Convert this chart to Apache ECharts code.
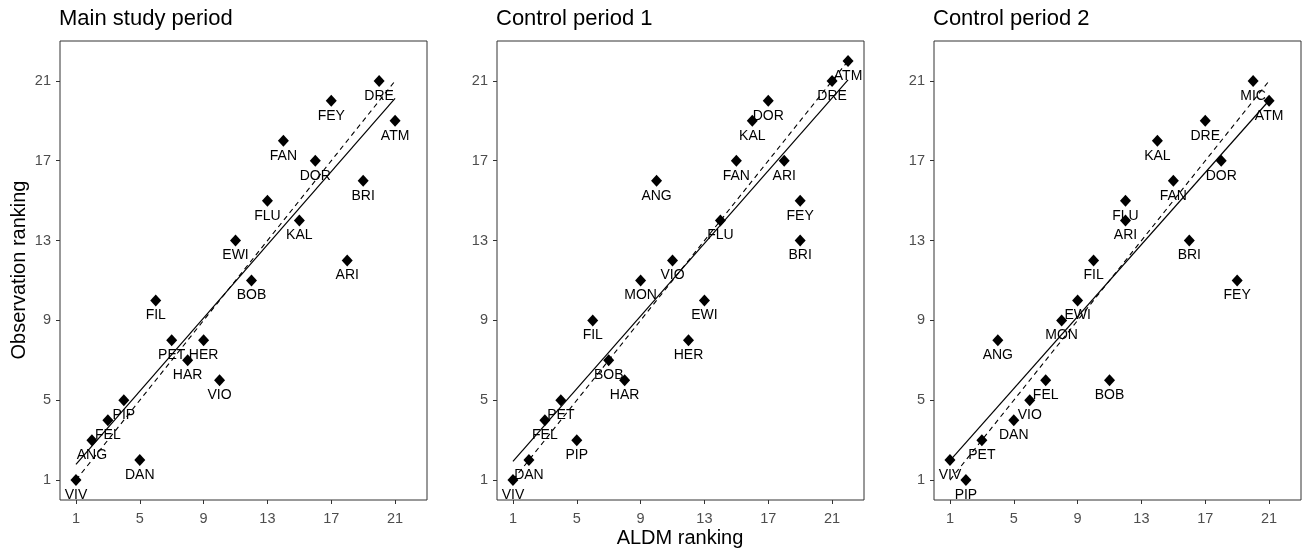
<!DOCTYPE html>
<html>
<head>
<meta charset="utf-8">
<script src="https://cdn.jsdelivr.net/npm/echarts@6/dist/echarts.min.js"></script>
<style>
html,body{margin:0;padding:0;background:#fff;}
#chart{width:1308px;height:551px;}
</style>
</head>
<body>
<div id="chart"></div>
<script>
// ---- Data ----
const panelTitles = ["Main study period", "Control period 1", "Control period 2"];
const tickValues = [1, 5, 9, 13, 17, 21];

const mainNames = ["DRE","FEY","ATM","FAN","DOR","BRI","FLU","KAL","EWI","ARI","BOB","FIL","PET","HER","HAR","VIO","PIP","FEL","ANG","DAN","VIV"];
const mainAldm  = [20, 17, 21, 14, 16, 19, 13, 15, 11, 18, 12, 6, 7, 9, 8, 10, 4, 3, 2, 5, 1];
const mainObs   = [21, 20, 19, 18, 17, 16, 15, 14, 13, 12, 11, 10, 8, 8, 7, 6, 5, 4, 3, 2, 1];

const ctrl1Names = ["ATM","DRE","DOR","KAL","FAN","ARI","ANG","FEY","FLU","BRI","VIO","MON","EWI","FIL","HER","BOB","HAR","PET","FEL","PIP","DAN","VIV"];
const ctrl1Aldm  = [22, 21, 17, 16, 15, 18, 10, 19, 14, 19, 11, 9, 13, 6, 12, 7, 8, 4, 3, 5, 2, 1];
const ctrl1Obs   = [22, 21, 20, 19, 17, 17, 16, 15, 14, 13, 12, 11, 10, 9, 8, 7, 6, 5, 4, 3, 2, 1];

const ctrl2Names = ["MIC","ATM","DRE","KAL","DOR","FAN","FLU","ARI","BRI","FIL","FEY","EWI","MON","ANG","FEL","BOB","VIO","DAN","PET","VIV","PIP"];
const ctrl2Aldm  = [20, 21, 17, 14, 18, 15, 12, 12, 16, 10, 19, 9, 8, 4, 7, 11, 6, 5, 3, 1, 2];
const ctrl2Obs   = [21, 20, 19, 18, 17, 16, 15, 14, 13, 12, 11, 10, 9, 8, 6, 6, 5, 4, 3, 2, 1];

const xAxisTitle = "ALDM ranking";
const yAxisTitle = "Observation ranking";

// ---- Build ----
const panels = [
  {names: mainNames, x: mainAldm, y: mainObs},
  {names: ctrl1Names, x: ctrl1Aldm, y: ctrl1Obs},
  {names: ctrl2Names, x: ctrl2Aldm, y: ctrl2Obs}
];
const gridLefts = [60, 497, 934];
const FONT = "'Liberation Sans', Arial, sans-serif";

function linFit(xs, ys) {
  const n = xs.length;
  const mx = xs.reduce((a, b) => a + b, 0) / n;
  const my = ys.reduce((a, b) => a + b, 0) / n;
  let sxy = 0, sxx = 0;
  for (let i = 0; i < n; i++) { sxy += (xs[i] - mx) * (ys[i] - my); sxx += (xs[i] - mx) ** 2; }
  const b = sxy / sxx;
  return {a: my - b * mx, b: b};
}

const grids = [], xAxes = [], yAxes = [], series = [];
panels.forEach((p, i) => {
  grids.push({left: gridLefts[i], top: 41, width: 367, height: 459, show: true,
    borderColor: '#333', borderWidth: 1, backgroundColor: '#fff'});
  const axisCommon = {
    type: 'value', min: 0, max: 23, gridIndex: i,
    splitLine: {show: false},
    axisLine: {show: false},
    axisTick: {show: true, inside: false, length: 4, customValues: tickValues,
      lineStyle: {color: '#333', width: 1}},
    axisLabel: {customValues: tickValues, color: '#4d4d4d', fontSize: 14.5, fontFamily: FONT, margin: 9}
  };
  xAxes.push(Object.assign({}, axisCommon, {axisLabel: Object.assign({}, axisCommon.axisLabel, {margin: 11})}));
  yAxes.push(Object.assign({}, axisCommon));

  const xmin = Math.min(...p.x), xmax = Math.max(...p.x);
  const fit = linFit(p.x, p.y);
  series.push({
    type: 'line', xAxisIndex: i, yAxisIndex: i, symbol: 'none', silent: true,
    data: [[xmin, xmin], [xmax, xmax]],
    lineStyle: {color: '#000', width: 1.1, type: [5, 4]}, z: 2
  });
  series.push({
    type: 'line', xAxisIndex: i, yAxisIndex: i, symbol: 'none', silent: true,
    data: [[xmin, fit.a + fit.b * xmin], [xmax, fit.a + fit.b * xmax]],
    lineStyle: {color: '#000', width: 1.2, type: 'solid'}, z: 2
  });
  series.push({
    type: 'scatter', xAxisIndex: i, yAxisIndex: i, symbol: 'diamond', symbolSize: [11, 12],
    itemStyle: {color: '#000', opacity: 1},
    data: p.x.map((v, k) => ({value: [v, p.y[k]], name: p.names[k]})),
    label: {show: true, position: 'inside', offset: [0, 15], formatter: '{b}',
      color: '#000', fontSize: 14, fontFamily: FONT},
    z: 3
  });
});

const graphics = panelTitles.map((t, i) => ({
  type: 'text', left: gridLefts[i] - 1, top: 8,
  style: {text: t, fontSize: 22, fontFamily: FONT, fill: '#000'}
}));
graphics.push({
  type: 'text', x: 680, y: 538,
  style: {text: xAxisTitle, fontSize: 20, fontFamily: FONT, fill: '#000', align: 'center', verticalAlign: 'middle'}
});
graphics.push({
  type: 'text', x: 19, y: 270, rotation: Math.PI / 2,
  style: {text: yAxisTitle, fontSize: 20, fontFamily: FONT, fill: '#000', align: 'center', verticalAlign: 'middle'}
});

const chart = echarts.init(document.getElementById('chart'), null, {renderer: 'canvas'});
chart.setOption({
  animation: false,
  backgroundColor: '#fff',
  grid: grids, xAxis: xAxes, yAxis: yAxes, series: series, graphic: graphics
});
</script>
</body>
</html>
